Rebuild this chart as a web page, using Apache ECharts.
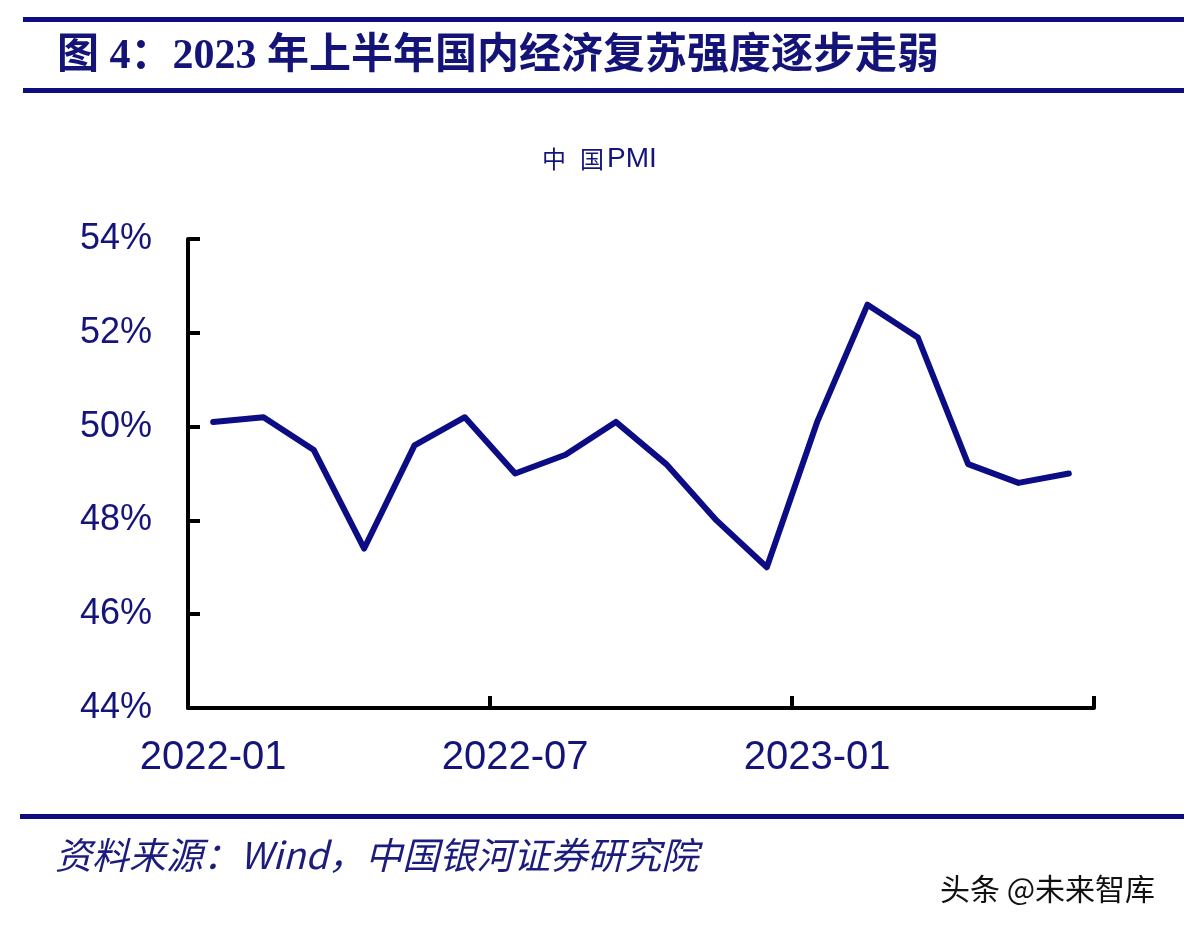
<!DOCTYPE html>
<html>
<head>
<meta charset="utf-8">
<script src="https://cdn.jsdelivr.net/npm/echarts@6/dist/echarts.min.js"></script>
<style>
html,body{margin:0;padding:0;background:#fff;}
#main{width:1184px;height:932px;}
</style>
</head>
<body>
<div id="main"></div>
<script>
const categories = ['2022-01','2022-02','2022-03','2022-04','2022-05','2022-06','2022-07','2022-08','2022-09','2022-10','2022-11','2022-12','2023-01','2023-02','2023-03','2023-04','2023-05','2023-06'];
const pmiValues = [50.1, 50.2, 49.5, 47.4, 49.6, 50.2, 49.0, 49.4, 50.1, 49.2, 48.0, 47.0, 50.1, 52.6, 51.9, 49.2, 48.8, 49.0];
const yTicks = [44, 46, 48, 50, 52, 54];
const figureTitle = '图 4：2023 年上半年国内经济复苏强度逐步走弱';
const chartTitleA = '中';
const chartTitleB = '国';
const chartTitleC = 'PMI';
const sourceText = '资料来源：Wind，中国银河证券研究院';
const watermark = '头条 @未来智库';

const navy = '#14147a';
const chart = echarts.init(document.getElementById('main'));
chart.setOption({
  backgroundColor: '#ffffff',
  animation: false,
  title: {
    text: '{a|' + chartTitleA + '}{b|' + chartTitleB + '}{c|' + chartTitleC + '}',
    left: 537,
    top: 140,
    textStyle: {
      fontWeight: 'normal',
      rich: {
        a: { fontFamily: '"Noto Sans CJK SC", sans-serif', fontSize: 24, fontWeight: 'normal', color: navy, padding: [0, 14, 0, 0] },
        b: { fontFamily: '"Noto Sans CJK SC", sans-serif', fontSize: 24, fontWeight: 'normal', color: navy },
        c: { fontFamily: '"Liberation Sans", Arial, sans-serif', fontSize: 28, fontWeight: 'normal', color: navy, padding: [0, 0, 0, 3] }
      }
    }
  },
  grid: { left: 188, right: 90, top: 239, bottom: 224, containLabel: false },
  xAxis: {
    type: 'category',
    data: categories,
    boundaryGap: true,
    axisLine: { lineStyle: { color: '#000', width: 4, cap: 'round' } },
    axisTick: { show: true, inside: true, length: 12, interval: 5, lineStyle: { color: '#000', width: 4 } },
    axisLabel: { interval: 5, margin: 30, fontFamily: '"Liberation Sans", Arial, sans-serif', fontSize: 40, color: navy }
  },
  yAxis: {
    type: 'value',
    min: yTicks[0],
    max: yTicks[yTicks.length - 1],
    interval: 2,
    axisLine: { show: true, lineStyle: { color: '#000', width: 4, cap: 'round' } },
    axisTick: { show: true, inside: true, length: 12, lineStyle: { color: '#000', width: 4 } },
    splitLine: { show: false },
    axisLabel: { margin: 36, fontFamily: '"Liberation Sans", Arial, sans-serif', fontSize: 36, color: navy, formatter: v => v + '%' }
  },
  series: [{
    type: 'line',
    data: pmiValues,
    symbol: 'none',
    lineStyle: { color: '#0c0c85', width: 6, cap: 'round', join: 'round' }
  }],
  graphic: [
    { type: 'rect', shape: { x: 23, y: 17, width: 1161, height: 5 }, style: { fill: '#0d0d80' } },
    { type: 'rect', shape: { x: 23, y: 88, width: 1161, height: 5 }, style: { fill: '#0d0d80' } },
    { type: 'text', left: 57, top: 36, style: { text: figureTitle, font: 'bold 42px "Liberation Serif", "Noto Sans CJK SC", serif', fill: '#141478' } },
    { type: 'rect', shape: { x: 20, y: 814, width: 1164, height: 5 }, style: { fill: '#0d0d80' } },
    { type: 'text', left: 55, top: 836, style: { text: sourceText, font: 'italic 37px "Noto Sans CJK SC", "Liberation Sans", sans-serif', fill: '#1c1c7c' } },
    { type: 'text', left: 940, top: 874, style: { text: watermark, font: '30px "Noto Sans CJK SC", sans-serif', fill: '#111', textShadowColor: 'rgba(0,0,0,0.35)', textShadowOffsetX: 1, textShadowOffsetY: 1 } }
  ]
});
</script>
</body>
</html>
